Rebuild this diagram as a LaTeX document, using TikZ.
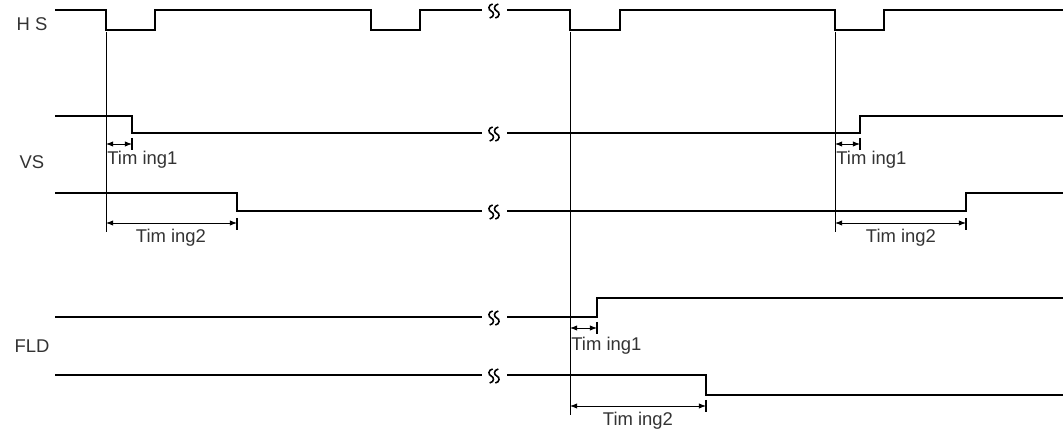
\documentclass[tikz,border=0pt]{standalone}
\usepackage{fontspec}
\setmainfont{Liberation Sans}
\usetikzlibrary{arrows.meta}
\newcommand{\brk}[2] % x in px, y in px
{
	% two small waves of the time break
	\foreach \o in {-2.8,2.8}{
		\draw[line width=0.9pt] (#1+\o+1.5,#2-7) .. controls (#1+\o-3.5,#2-6) and (#1+\o-3,#2-1) .. (#1+\o,#2)
			.. controls (#1+\o+3,#2+1) and (#1+\o+3.5,#2+6) .. (#1+\o-1.5,#2+7);
	}
}
\newcommand{\tick}[2] % x in px, y in px
{
	\draw[semithick] (#1,#2-6) -- (#1,#2+6);
}

\begin{document}
\begin{tikzpicture}[x=0.02cm, y=-0.02cm,
	sig/.style={line width=1.7pt},
	refline/.style={line width=0.5pt},
	tarr/.style={line width=0.5pt, {Latex[length=4pt,width=3pt]}-{Latex[length=4pt,width=3pt]}},
	lbl/.style={font=\fontsize{10.5}{12}\selectfont, text=black!80, inner sep=0pt}]
	\useasboundingbox (0,0) rectangle (1063,432);
	% signal names
	\node[lbl] (hs) at (32,24) {H S};
	\node[lbl] (vs) at (32,162) {VS};
	\node[lbl] (fld) at (32,346) {FLD};
	% HS
	\draw[sig] (55,10) -| (106,30) -| (155,10) -| (371,30) -| (420,10) -- (482,10);
	\draw[sig] (507,10) -| (570,30) -| (620,10) -| (835,30) -| (884,10) -- (1063,10);
	\brk{494}{11};
	% VS - upper
	\draw[sig] (55,116) -| (132,133) -- (482,133);
	\draw[sig] (507,133) -| (860,116) -- (1063,116);
	\brk{494}{134};
	% VS - lower
	\draw[sig] (55,193) -| (237,211) -- (482,211);
	\draw[sig] (507,211) -| (966,193) -- (1063,193);
	\brk{494}{212};
	% FLD - upper
	\draw[sig] (55,317) -- (482,317);
	\draw[sig] (507,317) -| (597,298) -- (1063,298);
	\brk{494}{318};
	% FLD - lower
	\draw[sig] (55,375) -- (482,375);
	\draw[sig] (507,375) -| (706,395) -- (1063,395);
	\brk{494}{376};
	% reference lines
	\draw[refline] (106,32) -- (106,232);
	\draw[refline] (570,32) -- (570,415);
	\draw[refline] (835,32) -- (835,232);
	% timing - left
	\draw[tarr] (106,144) -- (132,144);
	\tick{132}{144};
	\node[lbl, anchor=west] (ta1) at (107,160) {Tim ing1};
	\draw[tarr] (106,223) -- (237,223);
	\tick{237}{224};
	\node[lbl] (ta2) at (171,238) {Tim ing2};
	% timing - right
	\draw[tarr] (835,144) -- (860,144);
	\tick{860}{144};
	\node[lbl, anchor=west] (tb1) at (836,160) {Tim ing1};
	\draw[tarr] (835,223) -- (966,223);
	\tick{966}{224};
	\node[lbl] (tb2) at (901,238) {Tim ing2};
	% timing - FLD
	\draw[tarr] (570,328) -- (597,328);
	\tick{597}{328};
	\node[lbl, anchor=west] (tc1) at (571,346) {Tim ing1};
	\draw[tarr] (570,406) -- (706,406);
	\tick{706}{406};
	\node[lbl] (tc2) at (638,421) {Tim ing2};
\end{tikzpicture}
\end{document}
